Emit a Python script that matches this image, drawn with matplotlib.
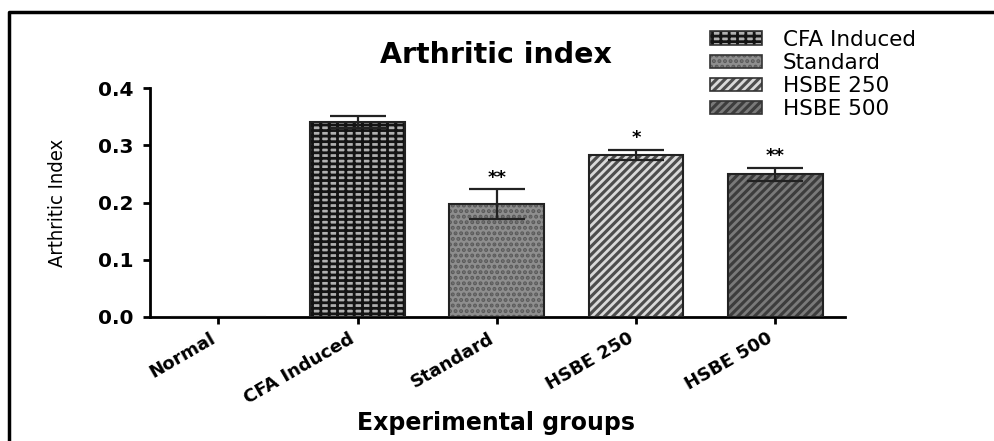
import matplotlib
matplotlib.use("Agg")
import matplotlib.pyplot as plt
from matplotlib.patches import Patch
from matplotlib.lines import Line2D

# ---- data ----
categories = ["Normal", "CFA Induced", "Standard", "HSBE 250", "HSBE 500"]
means = [0.0, 0.341, 0.197, 0.283, 0.249]
errors = [0.0, 0.010, 0.026, 0.009, 0.012]
stars = ["", "", "**", "*", "**"]
legend_labels = ["CFA Induced", "Standard", "HSBE 250", "HSBE 500"]
yticks = [0.0, 0.1, 0.2, 0.3, 0.4]

# ---- styles ----
face = ["white", "#b0b0b0", "#8e8e8e", "#4d4d4d", "#3d3d3d"]
hatchc = ["white", "#141414", "#5a5a5a", "#d9d9d9", "#7a7a7a"]
hatches = ["", "---||", "...", "////", "////"]

plt.rcParams["hatch.linewidth"] = 2.0
W, H = 994, 441
fig = plt.figure(figsize=(W / 100, H / 100), dpi=100)
ax = fig.add_axes([150 / W, 1 - 317 / H, (845 - 150) / W, (317 - 88) / H])

x = list(range(len(categories)))
hb = ax.bar(x, means, width=0.68, color=face, edgecolor=hatchc, linewidth=0, zorder=2)
for b, h in zip(hb, hatches):
    b.set_hatch(h)
ax.bar(x, means, width=0.68, fill=False, edgecolor="#222222", linewidth=1.5, zorder=3)
ax.errorbar(x[1:], means[1:], yerr=errors[1:], fmt="none", ecolor="#222222",
            elinewidth=1.6, capsize=20, capthick=1.6, zorder=4)
for xi, m, e, s in zip(x, means, errors, stars):
    if s:
        ax.annotate(s, (xi, m + e), xytext=(0, 2), textcoords="offset points",
                    ha="center", va="bottom", fontsize=13, fontweight="bold")

ax.set_xlim(-0.49, 4.5)
ax.set_ylim(0, 0.4)
ax.set_yticks(yticks)
ax.set_yticklabels([f"{v:.1f}" for v in yticks], fontsize=14.5, fontweight="bold",
                   family="DejaVu Sans")
ax.set_xticks(x)
ax.set_xticklabels(categories, rotation=30, ha="right", va="top",
                   fontsize=13, fontweight="bold", family="DejaVu Sans")
for s in ["top", "right"]:
    ax.spines[s].set_visible(False)
for s in ["left", "bottom"]:
    ax.spines[s].set_linewidth(2)
ax.tick_params(axis="both", width=2, length=5, direction="out")
ax.tick_params(axis="y", pad=7)
ax.tick_params(axis="x", pad=4)

ax.set_ylabel("Arthritic Index", fontsize=14.5, family="DejaVu Sans",
              fontstretch="condensed")
ax.yaxis.set_label_coords((67 - 150) / 695, 0.5)
fig.text(496 / W, 1 - 55 / H, "Arthritic index", ha="center", va="center",
         fontsize=20.5, fontweight="bold", family="DejaVu Sans")
fig.text(496 / W, 1 - 423 / H, "Experimental groups", ha="center", va="center",
         fontsize=17, fontweight="bold", family="DejaVu Sans")

handles = []
for i in range(1, 5):
    handles.append((Patch(facecolor=face[i], edgecolor=hatchc[i], hatch=hatches[i], linewidth=0),
                    Patch(fill=False, edgecolor="#333333", linewidth=1.2)))
fig.legend(handles, legend_labels, loc="upper left", bbox_to_anchor=(697 / W, 1 - 17 / H),
           frameon=False, handlelength=2.4, handleheight=0.6,
           handletextpad=1.0, labelspacing=0.14, borderpad=0.1,
           prop={"family": "DejaVu Sans", "size": 15.5})

# outer frame (left and top edges visible)
fig.add_artist(Line2D([9 / W, 9 / W, 993 / W], [0, 1 - 12 / H, 1 - 12 / H],
                      transform=fig.transFigure, color="black", linewidth=2.5))

fig.savefig("out.png", dpi=100)
